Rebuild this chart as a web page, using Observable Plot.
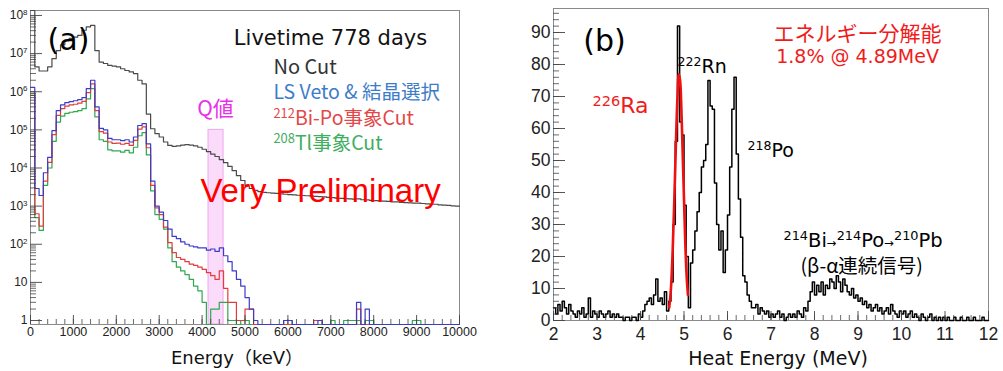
<!DOCTYPE html>
<html>
<head>
<meta charset="utf-8">
<script src="https://cdn.jsdelivr.net/npm/d3@7"></script>
<script src="https://cdn.jsdelivr.net/npm/@observablehq/plot@0.6"></script>
<style>
  body { margin: 0; background: #fff; }
  #wrap { position: relative; width: 1003px; height: 371px; overflow: hidden; background: #fff; }
  #pa { position: absolute; left: 0; top: 0; }
  #pb { position: absolute; left: 500px; top: 0; }
</style>
</head>
<body>
<div id="wrap"><div id="pa"></div><div id="pb"></div></div>
<script>
// ---------- Panel (a): energy spectra, 100 keV bins from 0 to 10000 keV ----------
const binKeV = 100;
const noCut = [
  3e8, 4.5e6, 3.5e6, 3.5e6, 4.5e6, 7.4e6, 1.2e7, 1.7e7, 2.2e7, 2.5e7,
  2.7e7, 3.0e7, 4.1e7, 5.0e7, 5.5e7, 1.2e7, 6.0e6, 5.5e6, 4.9e6, 4.7e6,
  4.5e6, 4.0e6, 3.6e6, 3.3e6, 3.0e6, 2.0e6, 1.6e6, 2.6e5, 1.07e5, 8.0e4,
  6.5e4, 4.8e4, 3.9e4, 3.7e4, 3.8e4, 4.0e4, 4.1e4, 4.0e4, 3.8e4, 3.5e4,
  3.1e4, 2.7e4, 2.3e4, 2.0e4, 1.66e4, 1.38e4, 1.1e4, 8500, 6300, 4700,
  3500, 2900, 2600, 2400, 2300, 2240, 2200, 2150, 2100, 2050,
  2000, 1980, 1930, 1900, 1870, 1850, 1800, 1780, 1750, 1700,
  1680, 1620, 1600, 1580, 1550, 1520, 1550, 1470, 1450, 1420,
  1400, 1370, 1350, 1330, 1300, 1300, 1260, 1240, 1220, 1200,
  1200, 1170, 1150, 1130, 1120, 1080, 1060, 1040, 1020, 1000
];
const lsVetoSel = [
  1.3e6, 2900, 1900, 7500, 1.9e4, 9.5e4, 3.2e5, 4.5e5, 5.2e5, 5.5e5,
  5.8e5, 6.2e5, 7.0e5, 1.2e6, 2.0e6, 4.0e5, 1.1e5, 1.0e5, 6.0e4, 5.5e4,
  5.5e4, 5.2e4, 5.5e4, 4.8e4, 6.5e4, 1.3e5, 1.45e5, 4.3e4, 4500, 1000,
  700, 420, 250, 160, 140, 115, 100, 90, 85, 80,
  80, 70, 75, 65, 80, 50, 35, 20, 12, 8,
  4, 2, 1, 0, 0, 0, 0, 0, 0, 1,
  1, 0, 0, 0, 0, 0, 0, 1, 0, 0,
  0, 0, 0, 0, 0, 0, 3, 0, 2, 0,
  0, 0, 0, 0, 0, 0, 0, 0, 0, 0,
  0, 0, 0, 0, 0, 0, 0, 0, 0, 0
];
const biPoCut = [
  1.0e6, 630, 300, 4500, 1.4e4, 7.5e4, 2.4e5, 3.6e5, 4.2e5, 4.5e5,
  4.7e5, 5.0e5, 5.6e5, 9.5e5, 1.6e6, 3.2e5, 9.0e4, 8.2e4, 4.8e4, 4.4e4,
  4.5e4, 4.2e4, 4.4e4, 3.9e4, 5.3e4, 1.05e5, 1.2e5, 3.4e4, 3500, 900,
  600, 280, 110, 60, 45, 40, 35, 30, 28, 25,
  22, 18, 15, 12, 20, 7, 3, 3, 1, 1,
  2, 2, 0, 0, 0, 0, 0, 0, 0, 0,
  0, 0, 0, 0, 0, 0, 1, 1, 0, 0,
  0, 0, 0, 0, 0, 0, 2, 0, 0, 0,
  0, 0, 0, 0, 0, 0, 0, 0, 0, 0,
  0, 0, 0, 0, 0, 0, 0, 0, 0, 0
];
const tlCut = [
  8.0e5, 500, 230, 3500, 1.0e4, 5.0e4, 1.6e5, 2.3e5, 2.7e5, 2.9e5,
  3.0e5, 3.2e5, 3.6e5, 6.5e5, 1.2e6, 2.2e5, 5.5e4, 5.0e4, 3.0e4, 2.8e4,
  2.8e4, 2.6e4, 2.9e4, 2.5e4, 3.5e4, 7.0e4, 8.5e4, 2.2e4, 2500, 600,
  450, 250, 80, 35, 25, 20, 16, 12, 8, 6,
  3, 0, 2, 2, 3, 3, 1, 1, 0, 1,
  1, 0, 0, 0, 0, 0, 0, 0, 0, 1,
  1, 0, 0, 0, 0, 0, 0, 0, 0, 0,
  1, 0, 0, 1, 1, 1, 1, 0, 1, 1,
  0, 0, 0, 0, 0, 0, 0, 0, 0, 1,
  1, 0, 0, 0, 0, 0, 0, 0, 0, 0
];
const qWindowKeV = [4150, 4500];
const qBandTop = 1e5;
const xTicksA = d3.range(0, 10001, 1000);

// ---------- Panel (b): heat-channel spectrum, 0.05 MeV bins from 2 to 12 MeV ----------
const heatStart = 2.0;
const heatBin = 0.05;
const heatCounts = [
  4, 2, 5, 3, 6, 4, 2, 5, 3, 2,
  1, 3, 2, 4, 1, 2, 7, 1, 3, 2,
  1, 3, 2, 1, 2, 3, 1, 2, 1, 2,
  1, 1, 0, 1, 1, 0, 1, 1, 0, 2,
  1, 3, 5, 6, 7, 5, 8, 13, 6, 7,
  5, 9, 3, 6, 12, 30, 56, 92, 62, 58,
  36, 20, 4, 18, 22, 28, 34, 40, 48, 50,
  55, 75, 67, 66, 43, 30, 22, 28, 15, 22,
  33, 48, 66, 76, 52, 38, 26, 14, 12, 8,
  6, 4, 4, 5, 2, 4, 3, 2, 3, 1,
  2, 1, 2, 3, 1, 2, 0, 1, 2, 1,
  2, 1, 3, 2, 1, 4, 3, 6, 9, 12,
  8, 11, 9, 12, 8, 11, 10, 13, 12, 10,
  14, 12, 9, 13, 11, 9, 8, 10, 7, 8,
  6, 7, 5, 6, 4, 5, 3, 4, 5, 3,
  4, 2, 3, 4, 2, 5, 3, 2, 1, 3,
  2, 3, 1, 2, 3, 1, 2, 1, 0, 2,
  1, 0, 1, 2, 0, 1, 0, 1, 0, 1,
  0, 1, 0, 0, 1, 0, 0, 1, 0, 0,
  1, 0, 0, 1, 0, 0, 0, 1, 0, 0
];
// 226Ra peak fit curve
const raFitMeV = [4.66, 4.70, 4.74, 4.78, 4.82, 4.85, 4.88, 4.91, 4.94, 4.97, 5.00, 5.03, 5.06, 5.09];
const raFitCounts = [4, 10, 22, 39, 58, 70, 77, 75, 66, 52, 38, 24, 14, 8];
const xTicksB = d3.range(2, 13);
const yTicksB = d3.range(0, 91, 10);

// ---------- helpers ----------
const comic = "'DejaVu Sans', 'Noto Sans CJK JP', sans-serif";
const gothic = "'Noto Sans CJK JP', 'Noto Sans', sans-serif";
const arial = "'Liberation Sans', Arial, sans-serif";

// histogram rows for a step line: one row per bin low edge, plus the closing edge
function stepRows(counts, start, width) {
  const rows = counts.map((v, i) => ({x: start + i * width, v}));
  rows.push({x: start + counts.length * width, v: counts[counts.length - 1]});
  return rows;
}
function label(t, x, y, o) {
  return Plot.text([{t, x, y}], {x: "x", y: "y", text: "t", lineAnchor: "middle", ...o});
}
// turn ^{..} into raised small tspans and _{..} into small inline tspans
function richText(svg) {
  const NS = "http://www.w3.org/2000/svg";
  for (const t of svg.querySelectorAll("text")) {
    const s = t.textContent;
    if (!/[\^_]\{/.test(s)) continue;
    const fs = parseFloat(getComputedStyle(t).fontSize) || 12;
    t.textContent = "";
    let shift = 0;
    for (const m of s.matchAll(/([\^_])\{([^}]*)\}|([^\^_]+)/g)) {
      const ts = document.createElementNS(NS, "tspan");
      let target = 0;
      if (m[1] === "^") { ts.setAttribute("font-size", fs * 0.66); target = -0.34 * fs; ts.textContent = m[2]; }
      else if (m[1] === "_") { ts.setAttribute("font-size", fs * 0.6); ts.textContent = m[2]; }
      else { ts.textContent = m[3]; }
      if (target !== shift) { ts.setAttribute("dy", target - shift); shift = target; }
      t.appendChild(ts);
    }
  }
}

// ---------- Panel (a) ----------
const WA = 470, HA = 371, mlA = 30, mrA = 11, mtA = 10, mbA = 47;
const innerWA = WA - mlA - mrA, innerHA = HA - mtA - mbA;
const yMinA = 0.786, yMaxA = 1.35e8;
const yMajorA = d3.range(0, 9).map(k => 10 ** k);
const yMinorA = d3.range(0, 8).flatMap(k => d3.range(2, 10).map(m => m * 10 ** k));
const xMinorA = d3.range(0, 10001, 200);
const powFmt = d => d === 1 ? "1" : d === 10 ? "10" : `10^{${Math.round(Math.log10(d))}}`;
const histY = d => (d.v > 0 ? d.v : yMinA);

const seriesA = [
  {counts: noCut, color: "#4a4a4a"},
  {counts: tlCut, color: "#2fa84f"},
  {counts: biPoCut, color: "#e23c3c"},
  {counts: lsVetoSel, color: "#3c3cc8"}
];

const chartA = Plot.plot({
  width: WA, height: HA, marginLeft: mlA, marginRight: mrA, marginTop: mtA, marginBottom: mbA,
  style: {background: "transparent", fontFamily: arial, fontSize: "12px", overflow: "visible"},
  x: {domain: [0, 10000]},
  y: {type: "log", domain: [yMinA, yMaxA], clamp: true},
  marks: [
    Plot.rect([qWindowKeV], {x1: d => d[0], x2: d => d[1], y1: yMinA, y2: qBandTop,
      fill: "#f6c4f6", fillOpacity: 0.6, stroke: "#efa6ef", strokeWidth: 1}),
    Plot.frame({stroke: "#8a8a8a", strokeWidth: 1}),
    ...seriesA.map(s => Plot.line(stepRows(s.counts, 0, binKeV),
      {x: "x", y: histY, curve: "step-after", stroke: s.color, strokeWidth: 1.2})),
    Plot.tickY(yMinorA, {y: d => d, insetRight: innerWA - 6, stroke: "#444", strokeWidth: 0.8}),
    Plot.tickY(yMajorA, {y: d => d, insetRight: innerWA - 12, stroke: "#444", strokeWidth: 0.9}),
    Plot.tickX(xMinorA, {x: d => d, insetTop: innerHA - 5, stroke: "#444", strokeWidth: 0.8}),
    Plot.tickX(xTicksA, {x: d => d, insetTop: innerHA - 9, stroke: "#444", strokeWidth: 0.9}),
    Plot.axisY({ticks: yMajorA, tickSize: 0, tickPadding: 3, tickFormat: powFmt, fontSize: 12, color: "#222", label: null}),
    Plot.axisX({ticks: xTicksA, tickSize: 0, tickPadding: 3, tickFormat: d => String(d), fontSize: 12.5, color: "#222", label: null}),
    Plot.text(["Energy（keV）"], {frameAnchor: "bottom", dy: 34, dx: -8, lineAnchor: "middle", fontSize: 18, fontFamily: comic, fill: "#111"}),
    label("(a)", 886, 2.2e7, {fontSize: 30, fontFamily: comic, fill: "#000"}),
    label("Livetime 778 days", 6993, 2.45e7, {fontSize: 21, fontFamily: comic, fill: "#111"}),
    label("No Cut", 5664, 4.2e6, {textAnchor: "start", fontSize: 20, fontFamily: gothic, fill: "#333"}),
    label("LS Veto & 結晶選択", 5664, 9.3e5, {textAnchor: "start", fontSize: 19.5, fontFamily: gothic, fill: "#3d7cc9"}),
    label("^{212}Bi-Po事象Cut", 5664, 2.0e5, {textAnchor: "start", fontSize: 19.5, fontFamily: gothic, fill: "#e24848"}),
    label("^{208}Tl事象Cut", 5664, 4.4e4, {textAnchor: "start", fontSize: 19.5, fontFamily: gothic, fill: "#3fae5f"}),
    label("Q値", 4312, 3.57e5, {fontSize: 21, fontFamily: gothic, fill: "#e830e8"}),
    label("Very Preliminary", 6760, 2360, {fontSize: 33, fontFamily: arial, fill: "#ff0000"})
  ]
});

// ---------- Panel (b) ----------
const WB = 503, HB = 371, mlB = 53, mrB = 15, mtB = 8, mbB = 51;
const innerWB = WB - mlB - mrB, innerHB = HB - mtB - mbB;
const yMinorB = d3.range(0, 97, 2);
const xMinorB = d3.range(20, 121, 2).map(d => d / 10);
const raFit = raFitMeV.map((m, i) => ({m, n: raFitCounts[i]}));

const chartB = Plot.plot({
  width: WB, height: HB, marginLeft: mlB, marginRight: mrB, marginTop: mtB, marginBottom: mbB,
  style: {background: "transparent", fontFamily: arial, fontSize: "17px", overflow: "visible"},
  x: {domain: [2, 12]},
  y: {domain: [0, 97.5], clamp: true},
  marks: [
    Plot.frame({stroke: "#8a8a8a", strokeWidth: 1}),
    Plot.line(stepRows(heatCounts, heatStart, heatBin),
      {x: "x", y: "v", curve: "step-after", stroke: "#000", strokeWidth: 1.5}),
    Plot.line(raFit, {x: "m", y: "n", curve: "catmull-rom", stroke: "#ee1111", strokeWidth: 2.6}),
    Plot.tickY(yMinorB, {y: d => d, insetRight: innerWB - 6, stroke: "#444", strokeWidth: 0.8}),
    Plot.tickY(yTicksB, {y: d => d, insetRight: innerWB - 12, stroke: "#444", strokeWidth: 0.9}),
    Plot.tickX(xMinorB, {x: d => d, insetTop: innerHB - 5, stroke: "#444", strokeWidth: 0.8}),
    Plot.tickX(xTicksB, {x: d => d, insetTop: innerHB - 9, stroke: "#444", strokeWidth: 0.9}),
    Plot.axisY({ticks: yTicksB, tickSize: 0, tickPadding: 3, tickFormat: d => String(d), fontSize: 17.5, color: "#222", label: null}),
    Plot.axisX({ticks: xTicksB, tickSize: 0, tickPadding: 7, tickFormat: d => String(d), fontSize: 17.5, color: "#222", label: null}),
    Plot.text(["Heat Energy (MeV)"], {frameAnchor: "bottom", dy: 38, dx: 7, lineAnchor: "middle", fontSize: 19, fontFamily: comic, fill: "#111"}),
    label("(b)", 3.172, 87.2, {fontSize: 30, fontFamily: comic, fill: "#000"}),
    label("^{222}Rn", 4.851, 79.3, {textAnchor: "start", fontSize: 19, fontFamily: comic, fill: "#000"}),
    label("^{226}Ra", 2.897, 67.0, {textAnchor: "start", fontSize: 22, fontFamily: comic, fill: "#f01c1c"}),
    label("^{218}Po", 6.46, 53.1, {textAnchor: "start", fontSize: 19, fontFamily: comic, fill: "#000"}),
    label("エネルギー分解能", 8.989, 89.6, {fontSize: 21, fontFamily: gothic, fill: "#f01c1c"}),
    label("1.8% @ 4.89MeV", 8.989, 82.5, {fontSize: 19, fontFamily: comic, fill: "#f01c1c"}),
    label("^{214}Bi_{→}^{214}Po_{→}^{210}Pb", 7.287, 25.0, {textAnchor: "start", fontSize: 19.5, fontFamily: comic, fill: "#000"}),
    label("(β-α連続信号)", 7.678, 16.8, {textAnchor: "start", fontSize: 19.5, fontFamily: gothic, fill: "#000"})
  ]
});

document.getElementById("pa").append(chartA);
document.getElementById("pb").append(chartB);
richText(chartA);
richText(chartB);
</script>
</body>
</html>
